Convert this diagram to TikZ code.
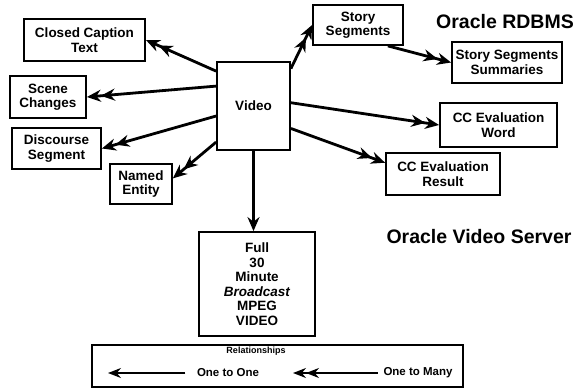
\documentclass[tikz,border=0pt]{standalone}
\usepackage{fontspec}
\setmainfont{Liberation Sans}
\usetikzlibrary{arrows.meta}

\tikzset{
	box/.style={draw, line width=1.8pt, align=center, inner sep=0pt, font=\fontsize{13.5}{14.5}\selectfont\bfseries},
	onemany/.style={line width=2.8pt, -{Stealth[length=14pt,width=12pt]Stealth[length=14pt,width=12pt]}},
	oneone/.style={line width=2.8pt, -{Stealth[length=14pt,width=12pt]}},
	dbname/.style={font=\fontsize{19.5}{21}\selectfont\bfseries}
}

\begin{document}
\begin{tikzpicture}[x=1pt, y=-1pt]
		%%%%% START %%%%%
		\useasboundingbox (0, 0) rectangle (580, 390);
		
		\node[box, minimum width=73pt, minimum height=88pt] (video) at (253.5, 106) {Video};
		
		\node[box, minimum width=121pt, minimum height=42pt] (cct) at (84.5, 40) {Closed Caption\\Text};
		\node[box, minimum width=76pt, minimum height=42pt] (scene) at (48, 97) {Scene\\Changes};
		\node[box, minimum width=89pt, minimum height=41pt] (disc) at (56.5, 148.5) {Discourse\\Segment};
		\node[box, minimum width=62pt, minimum height=40pt] (named) at (141, 184) {Named\\Entity};
		
		\node[box, minimum width=90pt, minimum height=40pt] (story) at (358, 25) {Story\\Segments};
		\node[box, minimum width=110pt, minimum height=41pt] (summ) at (507, 62.5) {Story Segments\\Summaries};
		\node[box, minimum width=117pt, minimum height=44pt] (ccword) at (498.5, 125) {CC Evaluation\\Word};
		\node[box, minimum width=114pt, minimum height=42pt] (ccres) at (443, 174) {CC Evaluation\\Result};
		
		\node[box, minimum width=116pt, minimum height=104pt] (full) at (257, 284) {Full\\30\\Minute\\\textit{Broadcast}\\MPEG\\VIDEO};
		
		\node[dbname] (rdbms) at (505, 22) {Oracle RDBMS};
		\node[dbname] (vserver) at (479, 237) {Oracle Video Server};
		
		\draw[onemany] (video.137) -- (cct.east);
		\draw[onemany] (video.152) -- (scene.east);
		\draw[onemany] (video.195) -- (disc.east);
		\draw[onemany] (video.224) -- (named.10);
		\draw[onemany] (video.45) -- (story.west);
		\draw[onemany] (story.-35) -- (summ.west);
		\draw[onemany] (video.5) -- (ccword.west);
		\draw[onemany] (video.-31) -- (ccres.169);
		\draw[oneone] (video.south) -- (video.south |- full.north);
		
		% legend
		\draw[line width=1.8pt] (92, 345) rectangle (463, 387);
		\node[font=\fontsize{9}{10}\selectfont\bfseries] (rel) at (256, 351) {Relationships};
		\node[font=\fontsize{11.5}{12}\selectfont\bfseries] (lone) at (228, 373) {One to One};
		\node[font=\fontsize{11.5}{12}\selectfont\bfseries] (lmany) at (418, 373) {One to Many};
		\draw[line width=1.6pt, -{Stealth[length=13pt,width=10pt]}] (lone.west) ++(-8, 0) -- (108, 373);
		\draw[line width=1.6pt, -{Stealth[length=13pt,width=10pt]Stealth[length=13pt,width=10pt]}] (lmany.west) ++(-2, 0) -- (293, 373);
		
		%%%%% END %%%%%
\end{tikzpicture}
\end{document}
